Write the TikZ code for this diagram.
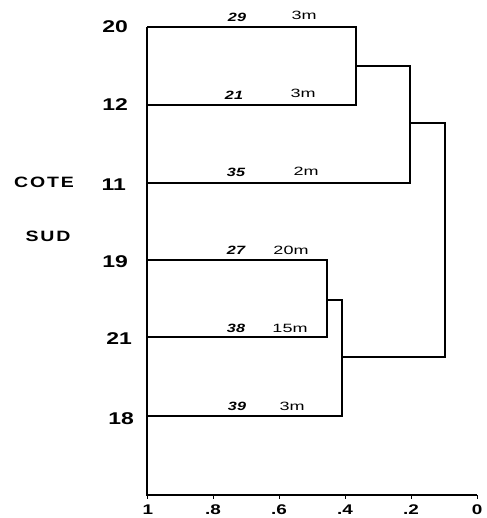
\documentclass[tikz,border=0pt]{standalone}
\usepackage{fontspec}
\setmainfont{Liberation Sans}
\newfontfamily\widesans[FakeStretch=1.35]{Liberation Sans}
\newfontfamily\widerm[FakeStretch=1.5]{Liberation Sans}
\newfontfamily\spacedsans[FakeStretch=1.3,LetterSpace=12]{Liberation Sans}
\begin{document}
\begin{tikzpicture}[x=1pt,y=-1pt,
  link/.style={line width=1.3pt, line join=miter},
  leaflab/.style={font=\widesans\fontsize{17}{17}\selectfont\bfseries, anchor=east, inner sep=0pt},
  sidelab/.style={font=\spacedsans\fontsize{15}{15}\selectfont\bfseries, inner sep=0pt},
  numlab/.style={font=\widesans\fontsize{12}{12}\selectfont\bfseries\itshape, inner sep=0pt},
  distlab/.style={font=\widerm\fontsize{12}{12}\selectfont, inner sep=0pt},
  ticklab/.style={font=\widesans\fontsize{14}{14}\selectfont\bfseries, inner sep=0pt, anchor=north}]
\useasboundingbox (0,0) rectangle (486,518);
% leaves
\coordinate (l20) at (147,27);
\coordinate (l12) at (147,105);
\coordinate (l11) at (147,183);
\coordinate (l19) at (147,260);
\coordinate (l21) at (147,337);
\coordinate (l18) at (147,416);
\coordinate (o) at (147,495);
\coordinate (e) at (477,495);
% merge points
\coordinate (a1) at (356,27);
\coordinate (a2) at (356,105);
\coordinate (am) at (356,66);
\coordinate (b1) at (410,66);
\coordinate (b2) at (410,183);
\coordinate (bm) at (410,123);
\coordinate (c1) at (445,123);
\coordinate (c2) at (445,357);
\coordinate (d1) at (327,260);
\coordinate (d2) at (327,337);
\coordinate (dm) at (327,300);
\coordinate (f1) at (342,300);
\coordinate (f2) at (342,416);
\coordinate (fm) at (342,357);
% axes
\draw[link] (l20) -- (o) -- (e);
\foreach \xx in {147,213,279,345,411,477}{
  \draw[line width=0.9pt] (\xx,495) -- (\xx,498.5);
}
% dendrogram
\draw[link] (l20) -- (a1) -- (a2) -- (l12);
\draw[link] (am) -- (b1) -- (b2) -- (l11);
\draw[link] (bm) -- (c1) -- (c2) -- (fm);
\draw[link] (l19) -- (d1) -- (d2) -- (l21);
\draw[link] (dm) -- (f1) -- (f2) -- (l18);
% leaf labels
\node[leaflab] (t20) at (128,27) {20};
\node[leaflab] (t12) at (128,105) {12};
\node[leaflab] (t11) at (126,185) {11};
\node[leaflab] (t19) at (128,262) {19};
\node[leaflab] (t21) at (132,339) {21};
\node[leaflab] (t18) at (134,419) {18};
\node[sidelab] (cote) at (44,182) {COTE};
\node[sidelab] (sud) at (48,236) {SUD};
% numbers and distances
\node[numlab] (n29) at (237,17) {29};
\node[distlab] (d29) at (304,15) {3m};
\node[numlab] (n21) at (234,95) {21};
\node[distlab] (d21) at (303,93) {3m};
\node[numlab] (n35) at (236,172) {35};
\node[distlab] (d35) at (306,171) {2m};
\node[numlab] (n27) at (236,250) {27};
\node[distlab] (d27) at (291,250) {20m};
\node[numlab] (n38) at (236,328) {38};
\node[distlab] (d38) at (290,328) {15m};
\node[numlab] (n39) at (237,406) {39};
\node[distlab] (d39) at (292,406) {3m};
% axis labels
\node[ticklab] (x1) at (148,505) {1};
\node[ticklab] (x8) at (213,505) {.8};
\node[ticklab] (x6) at (279,505) {.6};
\node[ticklab] (x4) at (345,505) {.4};
\node[ticklab] (x2) at (411,505) {.2};
\node[ticklab] (x0) at (477,505) {0};
\end{tikzpicture}
\end{document}
